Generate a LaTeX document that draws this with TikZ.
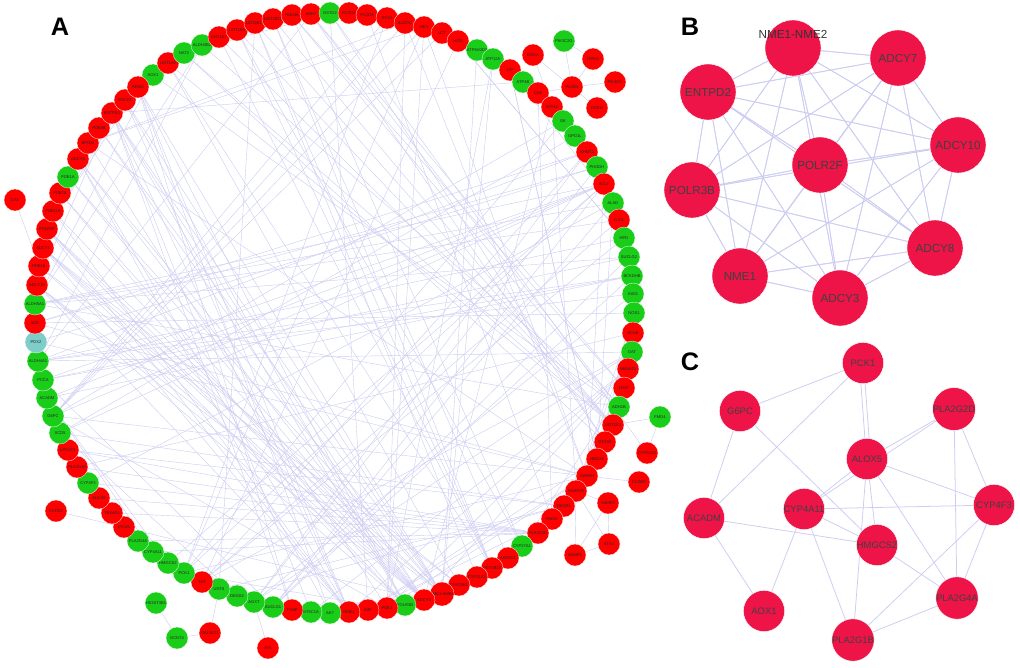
\documentclass[tikz,border=0pt]{standalone}
\usepackage{fontspec}
\setmainfont{Liberation Sans}
\usetikzlibrary{backgrounds}

\definecolor{upred}{RGB}{255,0,0}
\definecolor{downgreen}{RGB}{25,205,25}
\definecolor{midteal}{RGB}{125,205,200}
\definecolor{hubred}{RGB}{238,20,72}
\definecolor{linkblue}{RGB}{205,205,242}

\tikzset{
  gene/.style={circle, draw=white, line width=0.2pt, minimum size=0.55cm, inner sep=0pt,
    font=\fontsize{2.9}{3.2}\selectfont, text=black!85},
  hub/.style={circle, fill=hubred, draw=white, line width=0.3pt, minimum size=1.4cm, inner sep=0pt,
    font=\fontsize{8.3}{9}\selectfont, text=black!75},
  hubc/.style={hub, minimum size=1.03cm, font=\fontsize{6.7}{8}\selectfont},
  link/.style={linkblue, line width=0.3pt},
  hublink/.style={linkblue, line width=0.55pt},
  panel/.style={font=\fontsize{18}{20}\selectfont\bfseries}
}

\begin{document}
\begin{tikzpicture}[x=0.025cm, y=-0.025cm]
\useasboundingbox (0,0) rectangle (1020,667);

% panel A: ring of genes
\foreach \n/\x/\y/\c in {
  AOX1/153/75/downgreen, UGT1A6/168/63/upred, NAT2/184/53/downgreen, ALDH3B2/202/45/downgreen,
  UGT1A7/219/37/upred, UGT1A5/237/30/upred, UGT2B15/255/23/upred, UGT2B11/273/19/upred,
  RDH16/292/15/upred, ADH7/311/14/upred, GSTO2/330/13/downgreen, PLOD2/349/13/upred,
  PLOD3/367/15/upred, GYS1/387/18/upred, ALDOC/405/23/upred, HK3/424/27/upred,
  LCT/442/33/upred, HGD/458/41/upred, ATP6V0D2/477/50/downgreen, ATP12A/493/59/downgreen,
  CP/510/70/upred, ATP4B/523/82/downgreen, CA8/538/93/upred, ATP4A/552/107/upred,
  GK/563/121/downgreen, GPD1L/575/136/downgreen, SHMT2/587/152/upred, PHGDH/597/167/downgreen,
  ACLY/604/184/upred, ALAD/613/203/downgreen, IL4I1/619/220/upred, HPD/624/238/downgreen,
  SUCLG2/629/257/downgreen, BCKDHB/632/276/downgreen, ASS1/633/294/downgreen, NOS1/634/313/downgreen,
  ACHE/633/333/upred, OAT/632/352/downgreen, NMNAT1/628/369/upred, LRAT/624/388/upred,
  ADH1B/619/407/downgreen, UGT2A3/613/425/upred, GSTA5/605/442/upred, HMOX1/597/459/upred,
  GAPDH/587/476/upred, SNAP25/576/491/upred, DEGS1/564/506/upred, PADI2/552/519/upred,
  PLA2G2D/538/533/upred, CYP27A1/522/546/downgreen, AKR1D1/508/558/upred, UGT2B10/492/568/upred,
  CYP21A2/477/577/upred, CYP19A1/459/585/upred, NME1-NME2/442/594/upred, ADCY3/424/600/upred,
  POLR3B/405/605/downgreen, PGK1/387/608/upred, MIF/368/610/upred, NME1/349/612/upred,
  AK7/330/613/downgreen, NT5C1A/311/612/downgreen, TYMP/292/610/upred, SUCLG1/273/607/downgreen,
  AGXT/254/602/downgreen, DEGS2/237/596/downgreen, UGT8/219/589/downgreen, TAT/202/582/upred,
  PCK1/184/573/downgreen, HMGCS2/168/563/downgreen, CYP4A11/153/552/downgreen, PLA2G4A/138/541/downgreen,
  LTC4S/124/527/upred, TBXAS1/112/513/upred, ALOX5/99/498/upred, CYP4F3/88/483/downgreen,
  PLA2G10/77/467/upred, LPCAT1/68/450/upred, SCD5/60/433/downgreen, G6PC/53/416/downgreen,
  ACADM/47/398/downgreen, PCCA/43/380/downgreen, ALDH4A1/38/361/downgreen, PDX2/36/342/midteal,
  SDS/35/323/upred, ALDH5A1/35/304/downgreen, ADCY10/37/285/upred, PDE1B/39/266/upred,
  ADCY7/43/248/upred, POLR2F/47/229/upred, PDE11A/53/211/upred, PDE7A/60/193/upred,
  PDE1A/68/177/downgreen, ADCY8/78/159/upred, BPGM/88/143/upred, PDE6B/99/128/upred,
  ENTPD2/112/113/upred, POLE2/125/100/upred, RRM2/138/87/upred}
  \node[gene, fill=\c] (\n) at (\x,\y) {\n};

% panel A: genes outside the ring
\foreach \n/\x/\y/\c in {
  DGKA/533/55/upred, PIK3C2G/564/41/downgreen, ITPKA/593/59/upred, PIK3CD/615/82/upred,
  PLCB4/572/87/upred, DGKH/597/108/upred, FMO4/660/417/downgreen, CYP2A13/647/453/upred,
  CCKBR/639/482/upred, VAMP2/608/503/upred, STX4/609/544/upred, VAMP1/575/555/upred,
  HS3ST3B1/156/603/downgreen, GCNT4/177/638/downgreen, GAL3ST1/210/633/upred, HYI/268/648/upred,
  CXCR2/56/511/upred, CA6/15/200/upred}
  \node[gene, fill=\c] (\n) at (\x,\y) {\n};

\begin{pgfonlayer}{background}
\foreach \a/\b in {
  ADCY3/ADCY7, ADCY3/ADCY8, ADCY3/ADCY10, ADCY3/NME1, ADCY3/POLR2F, ADCY3/ENTPD2, ADCY3/PDE1A,
  ADCY3/PDE1B, ADCY3/PDE7A, ADCY3/PDE11A, ADCY3/PDE6B, ADCY3/ATP4A, ADCY3/NMNAT1,
  NME1-NME2/ADCY7, NME1-NME2/ADCY8, NME1-NME2/ADCY10, NME1-NME2/POLR2F, NME1-NME2/POLR3B,
  NME1-NME2/ENTPD2, NME1-NME2/RRM2, NME1-NME2/POLE2, NME1-NME2/AK7, NME1-NME2/TYMP,
  NME1-NME2/PDE1A, NME1-NME2/PDE6B, NME1-NME2/ATP6V0D2, NME1-NME2/ATP12A,
  NME1/ADCY7, NME1/ADCY8, NME1/ADCY10, NME1/POLR2F, NME1/ENTPD2, NME1/RRM2, NME1/POLE2,
  NME1/PDE11A, NME1/NMNAT1, POLR2F/POLR3B, POLR2F/ENTPD2, POLR2F/POLE2, POLR2F/RRM2,
  POLR3B/ENTPD2, POLR3B/ADCY7, POLR3B/ADCY10, POLR3B/RRM2, POLR3B/POLE2, POLR3B/PDE7A,
  ENTPD2/ADCY10, ENTPD2/NT5C1A, ENTPD2/TYMP, ENTPD2/ATP4B, RRM2/TYMP, RRM2/AK7,
  NT5C1A/TYMP, NT5C1A/NMNAT1, AK7/ADCY8, CYP19A1/ADCY7, CYP19A1/PDE1B,
  PGK1/GAPDH, PGK1/ALDOC, PGK1/HK3, PGK1/BPGM, PGK1/PCK1, PGK1/G6PC, PGK1/ATP12A,
  GAPDH/ALDOC, GAPDH/HK3, GAPDH/BPGM, GAPDH/G6PC, GAPDH/PCK1, GAPDH/HMOX1, GAPDH/MIF, GAPDH/ACLY,
  GAPDH/SDS, GAPDH/PDX2, ALDOC/G6PC, ALDOC/BPGM, HK3/G6PC, HK3/GYS1, HK3/PCK1, HK3/LCT,
  GYS1/G6PC, GYS1/PCK1, BPGM/HK3, GK/GPD1L, GK/PCK1, GK/G6PC, GPD1L/SCD5, LCT/G6PC,
  ACLY/PCK1, ACLY/SCD5, ACLY/HMGCS2, ACLY/ACADM, ACLY/PCCA, ACLY/SUCLG1, ACLY/G6PC, ACLY/ALDH5A1,
  SHMT2/PHGDH, SHMT2/AGXT, SHMT2/SDS, SHMT2/TAT, SHMT2/ALDH4A1, PHGDH/SDS, PHGDH/AGXT,
  PHGDH/PDX2, ALAD/HMOX1, ALAD/SUCLG1, ALAD/SUCLG2, ALAD/SHMT2, ALAD/ALDH5A1, ALAD/CYP4F3,
  HPD/TAT, HPD/HGD, HPD/IL4I1, HPD/ALDH4A1, TAT/HGD, TAT/IL4I1, TAT/OAT, IL4I1/ALDH5A1,
  SUCLG2/SUCLG1, SUCLG2/PCCA, SUCLG2/ALDH5A1, SUCLG1/PCCA, SUCLG1/BCKDHB, BCKDHB/PCCA,
  BCKDHB/ACADM, BCKDHB/ALDH4A1, ASS1/NOS1, ASS1/OAT, ASS1/AGXT, ASS1/ALDH4A1, OAT/ALDH4A1,
  OAT/AGXT, NOS1/HMOX1, NOS1/ACHE, NOS1/SDS, HMGCS2/ACADM, CYP4A11/ACADM, CYP4A11/HMGCS2,
  UGT1A6/UGT2B10, UGT1A6/UGT2A3, UGT1A7/UGT2B10, UGT1A7/UGT2A3, UGT1A5/UGT2A3, UGT1A5/UGT2B10,
  UGT2B15/UGT2B10, UGT2B15/UGT2A3, UGT2B11/UGT2A3, UGT2B11/UGT2B10, UGT1A6/CYP19A1,
  UGT2B15/CYP21A2, UGT2B11/AKR1D1, UGT1A5/CYP27A1, UGT8/UGT2B15,
  ADH7/ADH1B, ADH7/ALDH3B2, ADH1B/ALDH3B2, AOX1/ADH1B, AOX1/ALDH5A1, ADH1B/ALDH5A1,
  ALDH3B2/ALDH5A1, ALDH3B2/ALDH4A1, ADH7/ALDH4A1, GSTO2/GSTA5, NAT2/GSTA5, GSTO2/NAT2,
  GSTA5/ADH7, GSTO2/CYP2A13, NAT2/UGT2A3, RDH16/LRAT, RDH16/ADH1B, LRAT/ADH7, LRAT/CYP27A1,
  RDH16/CYP27A1, CYP19A1/CYP21A2, CYP21A2/AKR1D1, CYP27A1/AKR1D1, CYP19A1/AKR1D1,
  PLA2G4A/PLA2G10, PLA2G4A/PLA2G2D, PLA2G4A/LPCAT1, PLA2G10/PLA2G2D, PLA2G10/LPCAT1,
  PLA2G2D/ALOX5, PLA2G2D/LPCAT1, PLA2G2D/CYP4F3, PLA2G2D/CYP4A11, PLA2G2D/TBXAS1,
  ALOX5/TBXAS1, ALOX5/PLA2G10, LTC4S/PLA2G10, CYP4F3/CYP4A11, CYP4F3/LTC4S,
  DEGS1/DEGS2, DEGS1/UGT8, DEGS2/SCD5, DEGS1/SCD5, LPCAT1/DEGS1, LPCAT1/SCD5,
  ACHE/PLA2G10, ACHE/SNAP25, SNAP25/NOS1, SNAP25/ATP4A, HMOX1/CP, CP/ALAD, CP/HMOX1,
  ATP4A/ATP4B, ATP4A/ATP12A, ATP4B/ATP12A, ATP6V0D2/ATP4A, ATP6V0D2/ATP12A, ATP6V0D2/ATP4B,
  CA8/PADI2, PLOD2/PLOD3, PLOD2/HGD, PLOD3/PADI2, MIF/HMOX1, MIF/PADI2, MIF/GSTO2,
  NMNAT1/PGK1, HGD/HPD, HYI/AGXT, GAL3ST1/UGT8, GCNT4/GAL3ST1, HS3ST3B1/GCNT4,
  FMO4/UGT2A3, FMO4/CYP2A13, CCKBR/GAPDH, VAMP2/SNAP25, VAMP2/STX4, VAMP2/VAMP1,
  STX4/VAMP1, SNAP25/VAMP1, SNAP25/STX4, PLCB4/DGKA, PLCB4/ITPKA, PLCB4/PIK3CD,
  PLCB4/PIK3C2G, PLCB4/DGKH, ITPKA/PIK3C2G, PLCB4/CA8, DGKA/ATP4A, CXCR2/ADCY3, CA6/PDE1B}
  \draw[link] (\a) -- (\b);
\end{pgfonlayer}

% panel B
\node[hub, label={[font=\fontsize{8.3}{9}\selectfont, text=black!80, anchor=center, yshift=-0.375cm]above:NME1-NME2}] (bNME) at (793,48) {};
\node[hub] (bADCY7) at (898,58) {ADCY7};
\node[hub] (bENTPD2) at (708,92) {ENTPD2};
\node[hub] (bADCY10) at (958,145) {ADCY10};
\node[hub] (bPOLR2F) at (820,165) {POLR2F};
\node[hub] (bPOLR3B) at (692,190) {POLR3B};
\node[hub] (bADCY8) at (935,248) {ADCY8};
\node[hub] (bNME1) at (740,276) {NME1};
\node[hub] (bADCY3) at (840,298) {ADCY3};

% panel C
\node[hubc] (cPCK1) at (863,363) {PCK1};
\node[hubc] (cG6PC) at (740,411) {G6PC};
\node[hubc] (cPLA2G2D) at (954,409) {PLA2G2D};
\node[hubc] (cALOX5) at (867,459) {ALOX5};
\node[hubc] (cCYP4F3) at (994,505) {CYP4F3};
\node[hubc] (cACADM) at (704,518) {ACADM};
\node[hubc] (cCYP4A11) at (804,509) {CYP4A11};
\node[hubc] (cHMGCS2) at (877,545) {HMGCS2};
\node[hubc] (cPLA2G4A) at (957,598) {PLA2G4A};
\node[hubc] (cAOX1) at (764,611) {AOX1};
\node[hubc] (cPLA2G1B) at (853,640) {PLA2G1B};

\begin{pgfonlayer}{background}
\foreach \a in {bNME,bADCY7,bENTPD2,bADCY10,bPOLR2F,bPOLR3B,bADCY8,bNME1,bADCY3}
  \foreach \b in {bNME,bADCY7,bENTPD2,bADCY10,bPOLR2F,bPOLR3B,bADCY8,bNME1,bADCY3}
    \draw[hublink] (\a) -- (\b);
\foreach \a/\b in {
  cPCK1/cG6PC, cPCK1/cACADM, cG6PC/cACADM, cG6PC/cHMGCS2, cPLA2G2D/cALOX5, cPLA2G2D/cCYP4F3,
  cPLA2G2D/cCYP4A11, cPLA2G2D/cPLA2G4A, cALOX5/cCYP4A11, cALOX5/cHMGCS2, cALOX5/cCYP4F3,
  cALOX5/cPLA2G4A, cALOX5/cPLA2G1B, cCYP4F3/cCYP4A11, cCYP4F3/cPLA2G4A, cCYP4F3/cPLA2G1B,
  cCYP4A11/cHMGCS2, cCYP4A11/cPLA2G1B, cCYP4A11/cAOX1, cACADM/cHMGCS2, cACADM/cAOX1,
  cPLA2G1B/cPLA2G4A, cHMGCS2/cPLA2G4A}
  \draw[hublink] (\a) -- (\b);
\draw[hublink] ([xshift=-1.5pt]cPCK1.south) -- ([xshift=-1.5pt]cALOX5.north);
\draw[hublink] ([xshift=1.5pt]cPCK1.south) -- ([xshift=1.5pt]cALOX5.north);
\end{pgfonlayer}

% panel letters
\node[panel] (labA) at (60,27) {A};
\node[panel] (labB) at (690,27) {B};
\node[panel] (labC) at (690,362) {C};
\end{tikzpicture}
\end{document}
